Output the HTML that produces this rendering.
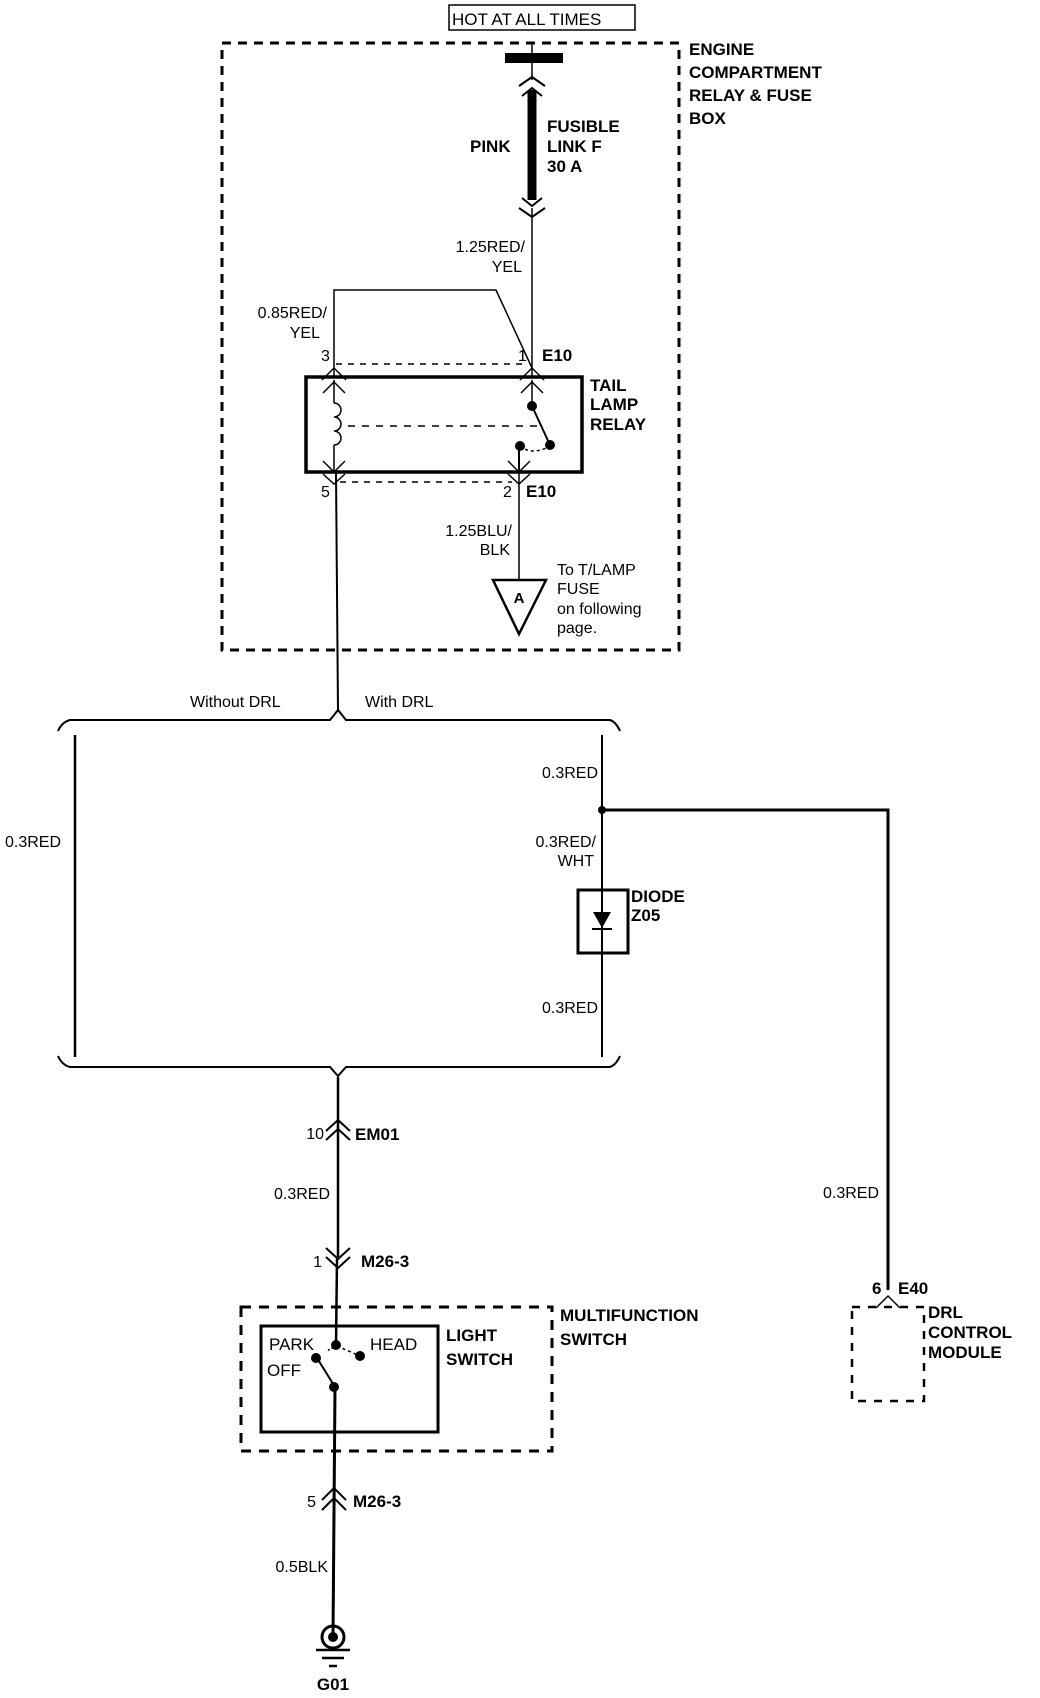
<!DOCTYPE html>
<html><head><meta charset="utf-8"><style>
html,body{margin:0;padding:0;background:#fff}
svg{display:block}
text{font-family:"Liberation Sans",Arial,sans-serif;fill:#000}
.b{font-weight:bold;font-size:17px}
.r{font-size:16px}
</style></head><body>
<svg width="1040" height="1698" viewBox="0 0 1040 1698" xmlns="http://www.w3.org/2000/svg">
<g stroke="#000" fill="none">
<!-- HOT AT ALL TIMES -->
<rect x="449" y="5" width="186" height="25" stroke-width="1.5"/>
<!-- engine box -->
<rect x="222" y="43" width="457" height="607" stroke-width="3" stroke-dasharray="9,7"/>
<!-- main wire top -->
<line x1="532" y1="43" x2="532" y2="80" stroke-width="1.5"/>
<rect x="505" y="53" width="58" height="10" fill="#000" stroke="none"/>
<polyline points="519,86 532,77 545,86" stroke-width="2"/>
<polyline points="522,96 532,88 542,96" stroke-width="2"/>
<line x1="532" y1="90" x2="532" y2="200" stroke-width="9"/>
<polyline points="522,198 532,206 542,198" stroke-width="2"/>
<polyline points="519,208 532,217 545,208" stroke-width="2"/>
<line x1="532" y1="208" x2="532" y2="378" stroke-width="1.5"/>
<!-- wire pin3 to pin1 -->
<polyline points="334,378 334,290 496,290 532,368" stroke-width="1.5"/>
<line x1="336" y1="364" x2="528" y2="364" stroke-width="1.5" stroke-dasharray="6,6"/>
<!-- connector chevrons at relay top -->
<polyline points="322,380 334,368 346,380" stroke-width="1.5"/>
<polyline points="520,380 532,368 544,380" stroke-width="1.5"/>
<!-- relay box -->
<rect x="306" y="377" width="276" height="95" stroke-width="3.5"/>
<polyline points="323,393 334,382 345,393" stroke-width="1.5"/>
<polyline points="521,393 532,382 543,393" stroke-width="1.5"/>
<!-- coil -->
<line x1="334" y1="380" x2="334" y2="403" stroke-width="1.5"/>
<path d="M334,403 a7,7 0 0 1 0,14 a7,7 0 0 1 0,14 a7,7 0 0 1 0,14 a7,7 0 0 1 0,0" stroke-width="1.5"/>
<line x1="334" y1="445" x2="334" y2="472" stroke-width="1.5"/>
<polyline points="323,461 334,472 345,461" stroke-width="1.5"/>
<line x1="348" y1="426" x2="538" y2="426" stroke-width="1.5" stroke-dasharray="7,7"/>
<!-- switch -->
<line x1="532" y1="380" x2="532" y2="406" stroke-width="1.5"/>
<line x1="532" y1="406" x2="550" y2="445" stroke-width="2"/>
<path d="M520,446 q12,10 30,0" stroke-width="1.5" stroke-dasharray="3,3"/>
<line x1="519" y1="446" x2="519" y2="472" stroke-width="2"/>
<polyline points="508,461 519,472 530,461" stroke-width="1.5"/>
<!-- bottom pins -->
<polyline points="323,474 334,484 345,474" stroke-width="1.5"/>
<polyline points="508,474 519,484 530,474" stroke-width="1.5"/>
<line x1="340" y1="482" x2="512" y2="482" stroke-width="1.5" stroke-dasharray="6,6"/>
<line x1="519" y1="472" x2="519" y2="580" stroke-width="1.5"/>
<polygon points="493,580 546,580 519,634" stroke-width="2.5"/>
<!-- main wire down -->
<line x1="336" y1="472" x2="338" y2="712" stroke-width="2"/>
<!-- top brace -->
<path d="M58,731 Q62,722 70,720 L330,720 L338,710 L346,720 L610,720 Q616,722 620,731" stroke-width="2"/>
<line x1="75" y1="735" x2="75" y2="1057" stroke-width="2.5"/>
<line x1="602" y1="735" x2="602" y2="1057" stroke-width="2"/>
<!-- junction -->
<circle cx="602" cy="810" r="4" fill="#000" stroke="none"/>
<polyline points="602,810 888,810 888,1290" stroke-width="3"/>
<!-- diode -->
<rect x="578" y="890" width="50" height="63" stroke-width="3"/>
<polygon points="593,912 611,912 602,928" fill="#000" stroke="none"/>
<line x1="592" y1="929" x2="612" y2="929" stroke-width="2"/>
<!-- bottom brace -->
<path d="M58,1056 Q62,1065 70,1067 L330,1067 L338,1076 L346,1067 L610,1067 Q616,1065 620,1056" stroke-width="2"/>
<line x1="338" y1="1077" x2="338" y2="1257" stroke-width="2.5"/>
<polyline points="326,1131 338,1120 350,1131" stroke-width="2"/>
<polyline points="326,1140 338,1129 350,1140" stroke-width="2"/>
<polyline points="326,1248 338,1259 350,1248" stroke-width="2"/>
<polyline points="326,1257 338,1268 350,1257" stroke-width="2"/>
<line x1="337" y1="1259" x2="336" y2="1345" stroke-width="2.5"/>
<!-- multifunction switch -->
<rect x="241" y="1307" width="311" height="144" stroke-width="3" stroke-dasharray="10,8"/>
<rect x="261" y="1326" width="177" height="106" stroke-width="3"/>
<line x1="317" y1="1358" x2="335" y2="1387" stroke-width="2"/>
<path d="M337,1346 L360,1356" stroke-width="1.5" stroke-dasharray="3,3"/>
<path d="M337,1346 L326,1351" stroke-width="1.5" stroke-dasharray="2,2"/>
<line x1="335" y1="1387" x2="333" y2="1637" stroke-width="3"/>
<polyline points="322,1500 334,1488 346,1500" stroke-width="2"/>
<polyline points="322,1510 334,1498 346,1510" stroke-width="2"/>
<!-- ground -->
<circle cx="333" cy="1637" r="11" stroke-width="3"/>
<line x1="316" y1="1650" x2="350" y2="1650" stroke-width="2.5"/>
<line x1="322" y1="1658" x2="344" y2="1658" stroke-width="2.5"/>
<line x1="329" y1="1666" x2="337" y2="1666" stroke-width="2.5"/>
<!-- DRL module -->
<polyline points="876,1308 888,1296 900,1308" stroke-width="1.5"/>
<rect x="852" y="1307" width="72" height="94" stroke-width="2.5" stroke-dasharray="8,8"/>
</g>
<g fill="#000">
<circle cx="336" cy="1345" r="5"/>
<circle cx="360" cy="1356" r="5"/>
<circle cx="316" cy="1358" r="5"/>
<circle cx="334" cy="1387" r="5"/>
<circle cx="532" cy="406" r="5"/>
<circle cx="550" cy="445" r="5"/>
<circle cx="520" cy="446" r="5"/>
<circle cx="333" cy="1637" r="5"/>
</g>
<text x="452" y="25" class="r" style="font-size:17px">HOT AT ALL TIMES</text>
<text x="689" y="55" class="b">ENGINE</text>
<text x="689" y="78" class="b">COMPARTMENT</text>
<text x="689" y="101" class="b">RELAY &amp; FUSE</text>
<text x="689" y="124" class="b">BOX</text>
<text x="470" y="152" class="b">PINK</text>
<text x="547" y="132" class="b">FUSIBLE</text>
<text x="547" y="152" class="b">LINK F</text>
<text x="547" y="172" class="b">30 A</text>
<text x="525" y="252" class="r" text-anchor="end">1.25RED/</text>
<text x="522" y="272" class="r" text-anchor="end">YEL</text>
<text x="327" y="318" class="r" text-anchor="end">0.85RED/</text>
<text x="320" y="338" class="r" text-anchor="end">YEL</text>
<text x="321" y="361" class="r">3</text>
<text x="518" y="361" class="r">1</text>
<text x="542" y="361" class="b">E10</text>
<text x="590" y="391" class="b">TAIL</text>
<text x="590" y="410" class="b">LAMP</text>
<text x="590" y="430" class="b">RELAY</text>
<text x="321" y="497" class="r">5</text>
<text x="503" y="497" class="r">2</text>
<text x="526" y="497" class="b">E10</text>
<text x="512" y="536" class="r" text-anchor="end">1.25BLU/</text>
<text x="510" y="555" class="r" text-anchor="end">BLK</text>
<text x="519" y="603" class="b" text-anchor="middle" style="font-size:15px">A</text>
<text x="557" y="575" class="r">To T/LAMP</text>
<text x="557" y="594" class="r">FUSE</text>
<text x="557" y="614" class="r">on following</text>
<text x="557" y="633" class="r">page.</text>
<text x="190" y="707" class="r">Without DRL</text>
<text x="365" y="707" class="r">With DRL</text>
<text x="5" y="847" class="r">0.3RED</text>
<text x="598" y="778" class="r" text-anchor="end">0.3RED</text>
<text x="596" y="847" class="r" text-anchor="end">0.3RED/</text>
<text x="594" y="866" class="r" text-anchor="end">WHT</text>
<text x="631" y="902" class="b">DIODE</text>
<text x="631" y="921" class="b">Z05</text>
<text x="598" y="1013" class="r" text-anchor="end">0.3RED</text>
<text x="324" y="1139" class="r" text-anchor="end">10</text>
<text x="355" y="1140" class="b">EM01</text>
<text x="330" y="1199" class="r" text-anchor="end">0.3RED</text>
<text x="322" y="1267" class="r" text-anchor="end">1</text>
<text x="361" y="1267" class="b">M26-3</text>
<text x="560" y="1321" class="b">MULTIFUNCTION</text>
<text x="560" y="1345" class="b">SWITCH</text>
<text x="446" y="1341" class="b">LIGHT</text>
<text x="446" y="1365" class="b">SWITCH</text>
<text x="269" y="1350" class="r" style="font-size:17px">PARK</text>
<text x="370" y="1350" class="r" style="font-size:17px">HEAD</text>
<text x="267" y="1376" class="r" style="font-size:17px">OFF</text>
<text x="316" y="1507" class="r" text-anchor="end">5</text>
<text x="353" y="1507" class="b">M26-3</text>
<text x="328" y="1572" class="r" text-anchor="end">0.5BLK</text>
<text x="333" y="1690" class="b" text-anchor="middle">G01</text>
<text x="879" y="1198" class="r" text-anchor="end">0.3RED</text>
<text x="872" y="1294" class="b">6</text>
<text x="898" y="1294" class="b">E40</text>
<text x="928" y="1318" class="b">DRL</text>
<text x="928" y="1338" class="b">CONTROL</text>
<text x="928" y="1358" class="b">MODULE</text>
</svg>
</body></html>
